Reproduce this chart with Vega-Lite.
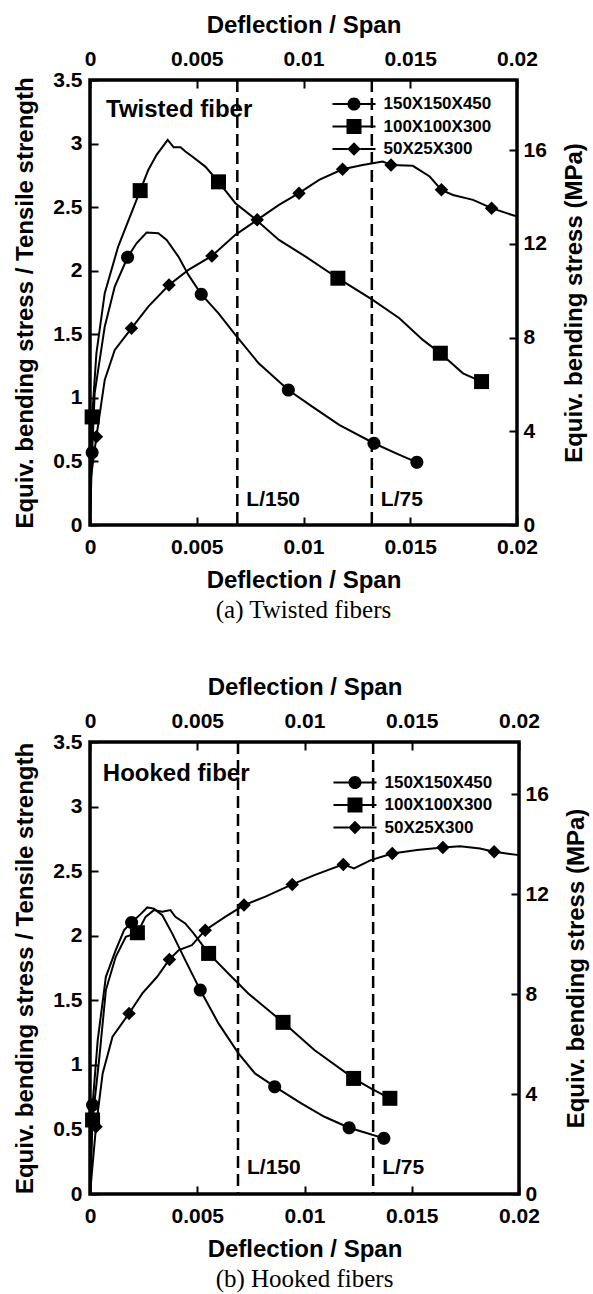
{
  "$schema": "https://vega.github.io/schema/vega-lite/v6.json",
  "background": "white",
  "padding": {"left": 12, "top": 11, "right": 0, "bottom": 0},
  "spacing": 48,
  "config": {
    "font": "Liberation Sans",
    "view": {"stroke": "black", "strokeWidth": 3.5},
    "axis": {"grid": false, "domain": false, "tickColor": "black", "tickWidth": 2, "tickSize": -8, "labelFont": "Liberation Sans", "labelFontSize": 21, "labelFontWeight": "bold", "labelColor": "black", "labelPadding": 14, "labelFlush": false, "labelOverlap": false, "titleFont": "Liberation Sans", "titleFontSize": 24, "titleFontWeight": "bold", "titleColor": "black", "titlePadding": 6},
    "axisX": {"labelPadding": 19, "titlePadding": 11},
    "axisLeft": {"labelPadding": 16, "titlePadding": 15},
    "axisRight": {"titlePadding": 16, "titleAngle": 270, "titleBaseline": "top"},
    "title": {"font": "Liberation Serif", "fontSize": 25, "fontWeight": "normal", "color": "black", "orient": "bottom", "anchor": "middle", "offset": 6},
    "legend": {"orient": "none", "title": null, "symbolSize": 225, "labelFont": "Liberation Sans", "labelFontSize": 17, "labelFontWeight": "bold", "labelColor": "black", "labelOffset": 21, "rowPadding": 4.5, "symbolStrokeWidth": 0}
  },
  "datasets": {
    "twisted": [
      {"s": "150X150X450", "x": 0, "y": 0, "m": 0},
      {"s": "150X150X450", "x": 0.00005, "y": 0.3, "m": 0},
      {"s": "150X150X450", "x": 0.0001, "y": 0.57, "m": 1},
      {"s": "150X150X450", "x": 0.00022, "y": 1.04, "m": 0},
      {"s": "150X150X450", "x": 0.00069, "y": 1.56, "m": 0},
      {"s": "150X150X450", "x": 0.00116, "y": 1.875, "m": 0},
      {"s": "150X150X450", "x": 0.00176, "y": 2.106, "m": 1},
      {"s": "150X150X450", "x": 0.00218, "y": 2.216, "m": 0},
      {"s": "150X150X450", "x": 0.00265, "y": 2.3, "m": 0},
      {"s": "150X150X450", "x": 0.0032, "y": 2.295, "m": 0},
      {"s": "150X150X450", "x": 0.00359, "y": 2.242, "m": 0},
      {"s": "150X150X450", "x": 0.00414, "y": 2.111, "m": 0},
      {"s": "150X150X450", "x": 0.00461, "y": 1.967, "m": 0},
      {"s": "150X150X450", "x": 0.00521, "y": 1.815, "m": 1},
      {"s": "150X150X450", "x": 0.00602, "y": 1.665, "m": 0},
      {"s": "150X150X450", "x": 0.00681, "y": 1.495, "m": 0},
      {"s": "150X150X450", "x": 0.0079, "y": 1.272, "m": 0},
      {"s": "150X150X450", "x": 0.00929, "y": 1.062, "m": 1},
      {"s": "150X150X450", "x": 0.01041, "y": 0.931, "m": 0},
      {"s": "150X150X450", "x": 0.01167, "y": 0.787, "m": 0},
      {"s": "150X150X450", "x": 0.0133, "y": 0.643, "m": 1},
      {"s": "150X150X450", "x": 0.01434, "y": 0.564, "m": 0},
      {"s": "150X150X450", "x": 0.01531, "y": 0.493, "m": 1},
      {"s": "100X100X300", "x": 0, "y": 0, "m": 0},
      {"s": "100X100X300", "x": 0.00005, "y": 0.5, "m": 0},
      {"s": "100X100X300", "x": 0.0001, "y": 0.85, "m": 1},
      {"s": "100X100X300", "x": 0.0003, "y": 1.351, "m": 0},
      {"s": "100X100X300", "x": 0.00069, "y": 1.823, "m": 0},
      {"s": "100X100X300", "x": 0.00132, "y": 2.19, "m": 0},
      {"s": "100X100X300", "x": 0.00235, "y": 2.63, "m": 1},
      {"s": "100X100X300", "x": 0.00273, "y": 2.793, "m": 0},
      {"s": "100X100X300", "x": 0.00312, "y": 2.911, "m": 0},
      {"s": "100X100X300", "x": 0.00364, "y": 3.029, "m": 0},
      {"s": "100X100X300", "x": 0.00392, "y": 2.971, "m": 0},
      {"s": "100X100X300", "x": 0.00424, "y": 2.971, "m": 0},
      {"s": "100X100X300", "x": 0.00447, "y": 2.937, "m": 0},
      {"s": "100X100X300", "x": 0.00479, "y": 2.898, "m": 0},
      {"s": "100X100X300", "x": 0.0054, "y": 2.819, "m": 0},
      {"s": "100X100X300", "x": 0.00602, "y": 2.699, "m": 1},
      {"s": "100X100X300", "x": 0.00681, "y": 2.531, "m": 0},
      {"s": "100X100X300", "x": 0.00775, "y": 2.405, "m": 0},
      {"s": "100X100X300", "x": 0.00885, "y": 2.242, "m": 0},
      {"s": "100X100X300", "x": 0.0101, "y": 2.111, "m": 0},
      {"s": "100X100X300", "x": 0.01161, "y": 1.941, "m": 1},
      {"s": "100X100X300", "x": 0.01324, "y": 1.77, "m": 0},
      {"s": "100X100X300", "x": 0.01449, "y": 1.626, "m": 0},
      {"s": "100X100X300", "x": 0.01559, "y": 1.456, "m": 0},
      {"s": "100X100X300", "x": 0.01641, "y": 1.351, "m": 1},
      {"s": "100X100X300", "x": 0.01747, "y": 1.193, "m": 0},
      {"s": "100X100X300", "x": 0.01834, "y": 1.128, "m": 1},
      {"s": "50X25X300", "x": 0, "y": 0, "m": 0},
      {"s": "50X25X300", "x": 0.00005, "y": 0.38, "m": 0},
      {"s": "50X25X300", "x": 0.0003, "y": 0.695, "m": 1},
      {"s": "50X25X300", "x": 0.00069, "y": 1.141, "m": 0},
      {"s": "50X25X300", "x": 0.00116, "y": 1.377, "m": 0},
      {"s": "50X25X300", "x": 0.00194, "y": 1.547, "m": 1},
      {"s": "50X25X300", "x": 0.00273, "y": 1.718, "m": 0},
      {"s": "50X25X300", "x": 0.0037, "y": 1.888, "m": 1},
      {"s": "50X25X300", "x": 0.00461, "y": 2.006, "m": 0},
      {"s": "50X25X300", "x": 0.00571, "y": 2.116, "m": 1},
      {"s": "50X25X300", "x": 0.00681, "y": 2.282, "m": 0},
      {"s": "50X25X300", "x": 0.00783, "y": 2.4, "m": 1},
      {"s": "50X25X300", "x": 0.00885, "y": 2.518, "m": 0},
      {"s": "50X25X300", "x": 0.00979, "y": 2.61, "m": 1},
      {"s": "50X25X300", "x": 0.01073, "y": 2.714, "m": 0},
      {"s": "50X25X300", "x": 0.01183, "y": 2.798, "m": 1},
      {"s": "50X25X300", "x": 0.01277, "y": 2.832, "m": 0},
      {"s": "50X25X300", "x": 0.01371, "y": 2.859, "m": 0},
      {"s": "50X25X300", "x": 0.0141, "y": 2.832, "m": 1},
      {"s": "50X25X300", "x": 0.01512, "y": 2.825, "m": 0},
      {"s": "50X25X300", "x": 0.01591, "y": 2.741, "m": 0},
      {"s": "50X25X300", "x": 0.01646, "y": 2.636, "m": 1},
      {"s": "50X25X300", "x": 0.017, "y": 2.596, "m": 0},
      {"s": "50X25X300", "x": 0.01794, "y": 2.557, "m": 0},
      {"s": "50X25X300", "x": 0.01881, "y": 2.492, "m": 1},
      {"s": "50X25X300", "x": 0.02, "y": 2.426, "m": 0}
    ],
    "hooked": [
      {"s": "150X150X450", "x": 0, "y": 0, "m": 0},
      {"s": "150X150X450", "x": 0.00012, "y": 0.689, "m": 1},
      {"s": "150X150X450", "x": 0.00036, "y": 1.192, "m": 0},
      {"s": "150X150X450", "x": 0.00074, "y": 1.682, "m": 0},
      {"s": "150X150X450", "x": 0.0012, "y": 1.889, "m": 0},
      {"s": "150X150X450", "x": 0.00159, "y": 2.043, "m": 0},
      {"s": "150X150X450", "x": 0.00194, "y": 2.103, "m": 1},
      {"s": "150X150X450", "x": 0.00236, "y": 2.167, "m": 0},
      {"s": "150X150X450", "x": 0.00267, "y": 2.219, "m": 0},
      {"s": "150X150X450", "x": 0.00298, "y": 2.21, "m": 0},
      {"s": "150X150X450", "x": 0.00337, "y": 2.159, "m": 0},
      {"s": "150X150X450", "x": 0.00383, "y": 2.018, "m": 0},
      {"s": "150X150X450", "x": 0.00444, "y": 1.811, "m": 0},
      {"s": "150X150X450", "x": 0.00514, "y": 1.579, "m": 1},
      {"s": "150X150X450", "x": 0.00599, "y": 1.321, "m": 0},
      {"s": "150X150X450", "x": 0.00692, "y": 1.089, "m": 0},
      {"s": "150X150X450", "x": 0.00769, "y": 0.934, "m": 0},
      {"s": "150X150X450", "x": 0.00861, "y": 0.831, "m": 1},
      {"s": "150X150X450", "x": 0.00985, "y": 0.702, "m": 0},
      {"s": "150X150X450", "x": 0.01093, "y": 0.598, "m": 0},
      {"s": "150X150X450", "x": 0.01208, "y": 0.513, "m": 1},
      {"s": "150X150X450", "x": 0.01293, "y": 0.47, "m": 0},
      {"s": "150X150X450", "x": 0.0137, "y": 0.431, "m": 1},
      {"s": "100X100X300", "x": 0, "y": 0, "m": 0},
      {"s": "100X100X300", "x": 0.00012, "y": 0.573, "m": 1},
      {"s": "100X100X300", "x": 0.00044, "y": 1.063, "m": 0},
      {"s": "100X100X300", "x": 0.00074, "y": 1.579, "m": 0},
      {"s": "100X100X300", "x": 0.0012, "y": 1.837, "m": 0},
      {"s": "100X100X300", "x": 0.00167, "y": 1.991, "m": 0},
      {"s": "100X100X300", "x": 0.00221, "y": 2.023, "m": 1},
      {"s": "100X100X300", "x": 0.00259, "y": 2.146, "m": 0},
      {"s": "100X100X300", "x": 0.00298, "y": 2.198, "m": 0},
      {"s": "100X100X300", "x": 0.00337, "y": 2.185, "m": 0},
      {"s": "100X100X300", "x": 0.00375, "y": 2.198, "m": 0},
      {"s": "100X100X300", "x": 0.00398, "y": 2.146, "m": 0},
      {"s": "100X100X300", "x": 0.00444, "y": 2.095, "m": 0},
      {"s": "100X100X300", "x": 0.00483, "y": 2.018, "m": 0},
      {"s": "100X100X300", "x": 0.00553, "y": 1.863, "m": 1},
      {"s": "100X100X300", "x": 0.00645, "y": 1.708, "m": 0},
      {"s": "100X100X300", "x": 0.00738, "y": 1.553, "m": 0},
      {"s": "100X100X300", "x": 0.009, "y": 1.329, "m": 1},
      {"s": "100X100X300", "x": 0.01046, "y": 1.115, "m": 0},
      {"s": "100X100X300", "x": 0.01229, "y": 0.895, "m": 1},
      {"s": "100X100X300", "x": 0.01309, "y": 0.818, "m": 0},
      {"s": "100X100X300", "x": 0.01398, "y": 0.741, "m": 1},
      {"s": "50X25X300", "x": 0, "y": 0, "m": 0},
      {"s": "50X25X300", "x": 0.00028, "y": 0.521, "m": 1},
      {"s": "50X25X300", "x": 0.00059, "y": 0.934, "m": 0},
      {"s": "50X25X300", "x": 0.00105, "y": 1.218, "m": 0},
      {"s": "50X25X300", "x": 0.00182, "y": 1.398, "m": 1},
      {"s": "50X25X300", "x": 0.00244, "y": 1.553, "m": 0},
      {"s": "50X25X300", "x": 0.00313, "y": 1.682, "m": 0},
      {"s": "50X25X300", "x": 0.0037, "y": 1.816, "m": 1},
      {"s": "50X25X300", "x": 0.00414, "y": 1.889, "m": 0},
      {"s": "50X25X300", "x": 0.00475, "y": 1.927, "m": 0},
      {"s": "50X25X300", "x": 0.00537, "y": 2.043, "m": 1},
      {"s": "50X25X300", "x": 0.0063, "y": 2.146, "m": 0},
      {"s": "50X25X300", "x": 0.00718, "y": 2.237, "m": 1},
      {"s": "50X25X300", "x": 0.00815, "y": 2.301, "m": 0},
      {"s": "50X25X300", "x": 0.00943, "y": 2.397, "m": 1},
      {"s": "50X25X300", "x": 0.01046, "y": 2.469, "m": 0},
      {"s": "50X25X300", "x": 0.01181, "y": 2.552, "m": 1},
      {"s": "50X25X300", "x": 0.01231, "y": 2.521, "m": 0},
      {"s": "50X25X300", "x": 0.01309, "y": 2.585, "m": 0},
      {"s": "50X25X300", "x": 0.01409, "y": 2.637, "m": 1},
      {"s": "50X25X300", "x": 0.01525, "y": 2.663, "m": 0},
      {"s": "50X25X300", "x": 0.01645, "y": 2.683, "m": 1},
      {"s": "50X25X300", "x": 0.01725, "y": 2.693, "m": 0},
      {"s": "50X25X300", "x": 0.01818, "y": 2.675, "m": 0},
      {"s": "50X25X300", "x": 0.01884, "y": 2.65, "m": 1},
      {"s": "50X25X300", "x": 0.02, "y": 2.624, "m": 0}
    ],
    "limits": [
      {"lab": "L/150", "x": 0.0069},
      {"lab": "L/75", "x": 0.0132}
    ]
  },
  "vconcat": [
    {
      "width": 427,
      "height": 445,
      "title": {"text": "(a) Twisted fibers"},
      "layer": [
        {
          "data": {"name": "twisted"},
          "mark": {"type": "line", "color": "black", "strokeWidth": 2},
          "encoding": {
            "x": {"field": "x", "type": "quantitative", "scale": {"domain": [0, 0.02]}, "axis": {"orient": "bottom", "title": "Deflection / Span", "values": [0, 0.005, 0.01, 0.015, 0.02], "format": "~g"}},
            "y": {"field": "y", "type": "quantitative", "scale": {"domain": [0, 3.5]}, "axis": {"orient": "left", "title": "Equiv. bending stress / Tensile strength", "values": [0, 0.5, 1, 1.5, 2, 2.5, 3, 3.5], "format": "~g"}},
            "detail": {"field": "s"}
          }
        },
        {
          "data": {"name": "twisted"},
          "transform": [{"filter": {"field": "m", "equal": 1}}],
          "mark": {"type": "point", "filled": true, "color": "black", "opacity": 1, "size": 225},
          "encoding": {
            "x": {"field": "x", "type": "quantitative", "axis": {"orient": "top", "title": "Deflection / Span", "values": [0, 0.005, 0.01, 0.015, 0.02], "format": "~g"}},
            "y": {"field": "y", "type": "quantitative", "axis": {"orient": "right", "title": "Equiv. bending stress (MPa)", "values": [0, 0.736842, 1.473684, 2.210526, 2.947368], "labelExpr": "format(datum.value * 19 / 3.5, '.0f')"}},
            "shape": {"field": "s", "type": "nominal", "scale": {"domain": ["150X150X450", "100X100X300", "50X25X300"], "range": ["M0.87,0A0.87,0.87 0 1,1 -0.87,0A0.87,0.87 0 1,1 0.87,0Z", "M-1,-1H1V1H-1Z", "M0,-0.9L0.9,0L0,0.9L-0.9,0Z"]}, "legend": null}
          }
        },
        {
          "data": {"name": "limits"},
          "mark": {"type": "rule", "color": "black", "strokeWidth": 2.5, "strokeDash": [12, 6]},
          "encoding": {"x": {"field": "x", "type": "quantitative", "axis": null}}
        },
        {
          "data": {"name": "limits"},
          "mark": {"type": "text", "align": "left", "baseline": "middle", "dx": 9, "fontSize": 21, "fontWeight": "bold", "font": "Liberation Sans", "color": "black"},
          "encoding": {"x": {"field": "x", "type": "quantitative", "axis": null}, "y": {"datum": 0.2, "type": "quantitative", "axis": null}, "text": {"field": "lab"}}
        },
        {
          "data": {"values": [{"t": "Twisted fiber"}]},
          "mark": {"type": "text", "align": "left", "baseline": "middle", "fontSize": 24, "fontWeight": "bold", "font": "Liberation Sans", "color": "black"},
          "encoding": {"x": {"datum": 0.00075, "type": "quantitative", "axis": null}, "y": {"datum": 3.265, "type": "quantitative", "axis": null}, "text": {"field": "t"}}
        },
        {
          "data": {"name": "twisted"},
          "transform": [{"filter": {"field": "m", "equal": 9}}],
          "mark": {"type": "point", "filled": true, "color": "black", "opacity": 1, "size": 225},
          "encoding": {
            "shape": {"field": "s", "type": "nominal", "scale": {"domain": ["150X150X450", "100X100X300", "50X25X300"], "range": ["M0.87,0A0.87,0.87 0 1,1 -0.87,0A0.87,0.87 0 1,1 0.87,0Z M-2.87,-0.14H-0.8V0.14H-2.87Z M0.8,-0.14H2.87V0.14H0.8Z", "M-1,-1H1V1H-1Z M-2.87,-0.14H-1V0.14H-2.87Z M1,-0.14H2.87V0.14H1Z", "M0,-0.9L0.9,0L0,0.9L-0.9,0Z M-2.87,-0.14H-0.85V0.14H-2.87Z M0.85,-0.14H2.87V0.14H0.85Z"]}, "legend": {"legendX": 255.5, "legendY": 15.5}}
          }
        }
      ],
      "resolve": {"scale": {"shape": "independent"}}
    },
    {
      "width": 429,
      "height": 452,
      "title": {"text": "(b) Hooked fibers"},
      "layer": [
        {
          "data": {"name": "hooked"},
          "mark": {"type": "line", "color": "black", "strokeWidth": 2},
          "encoding": {
            "x": {"field": "x", "type": "quantitative", "scale": {"domain": [0, 0.02]}, "axis": {"orient": "bottom", "title": "Deflection / Span", "values": [0, 0.005, 0.01, 0.015, 0.02], "format": "~g"}},
            "y": {"field": "y", "type": "quantitative", "scale": {"domain": [0, 3.5]}, "axis": {"orient": "left", "title": "Equiv. bending stress / Tensile strength", "values": [0, 0.5, 1, 1.5, 2, 2.5, 3, 3.5], "format": "~g"}},
            "detail": {"field": "s"}
          }
        },
        {
          "data": {"name": "hooked"},
          "transform": [{"filter": {"field": "m", "equal": 1}}],
          "mark": {"type": "point", "filled": true, "color": "black", "opacity": 1, "size": 225},
          "encoding": {
            "x": {"field": "x", "type": "quantitative", "axis": {"orient": "top", "title": "Deflection / Span", "values": [0, 0.005, 0.01, 0.015, 0.02], "format": "~g"}},
            "y": {"field": "y", "type": "quantitative", "axis": {"orient": "right", "title": "Equiv. bending stress (MPa)", "values": [0, 0.773481, 1.546961, 2.320442, 3.093923], "labelExpr": "format(datum.value * 18.1 / 3.5, '.0f')"}},
            "shape": {"field": "s", "type": "nominal", "scale": {"domain": ["150X150X450", "100X100X300", "50X25X300"], "range": ["M0.87,0A0.87,0.87 0 1,1 -0.87,0A0.87,0.87 0 1,1 0.87,0Z", "M-1,-1H1V1H-1Z", "M0,-0.9L0.9,0L0,0.9L-0.9,0Z"]}, "legend": null}
          }
        },
        {
          "data": {"name": "limits"},
          "mark": {"type": "rule", "color": "black", "strokeWidth": 2.5, "strokeDash": [12, 6]},
          "encoding": {"x": {"field": "x", "type": "quantitative", "axis": null}}
        },
        {
          "data": {"name": "limits"},
          "mark": {"type": "text", "align": "left", "baseline": "middle", "dx": 9, "fontSize": 21, "fontWeight": "bold", "font": "Liberation Sans", "color": "black"},
          "encoding": {"x": {"field": "x", "type": "quantitative", "axis": null}, "y": {"datum": 0.2, "type": "quantitative", "axis": null}, "text": {"field": "lab"}}
        },
        {
          "data": {"values": [{"t": "Hooked fiber"}]},
          "mark": {"type": "text", "align": "left", "baseline": "middle", "fontSize": 24, "fontWeight": "bold", "font": "Liberation Sans", "color": "black"},
          "encoding": {"x": {"datum": 0.0006, "type": "quantitative", "axis": null}, "y": {"datum": 3.256, "type": "quantitative", "axis": null}, "text": {"field": "t"}}
        },
        {
          "data": {"name": "hooked"},
          "transform": [{"filter": {"field": "m", "equal": 9}}],
          "mark": {"type": "point", "filled": true, "color": "black", "opacity": 1, "size": 225},
          "encoding": {
            "shape": {"field": "s", "type": "nominal", "scale": {"domain": ["150X150X450", "100X100X300", "50X25X300"], "range": ["M0.87,0A0.87,0.87 0 1,1 -0.87,0A0.87,0.87 0 1,1 0.87,0Z M-2.87,-0.14H-0.8V0.14H-2.87Z M0.8,-0.14H2.87V0.14H0.8Z", "M-1,-1H1V1H-1Z M-2.87,-0.14H-1V0.14H-2.87Z M1,-0.14H2.87V0.14H1Z", "M0,-0.9L0.9,0L0,0.9L-0.9,0Z M-2.87,-0.14H-0.85V0.14H-2.87Z M0.85,-0.14H2.87V0.14H0.85Z"]}, "legend": {"legendX": 256.5, "legendY": 32}}
          }
        }
      ],
      "resolve": {"scale": {"shape": "independent"}}
    }
  ]
}
